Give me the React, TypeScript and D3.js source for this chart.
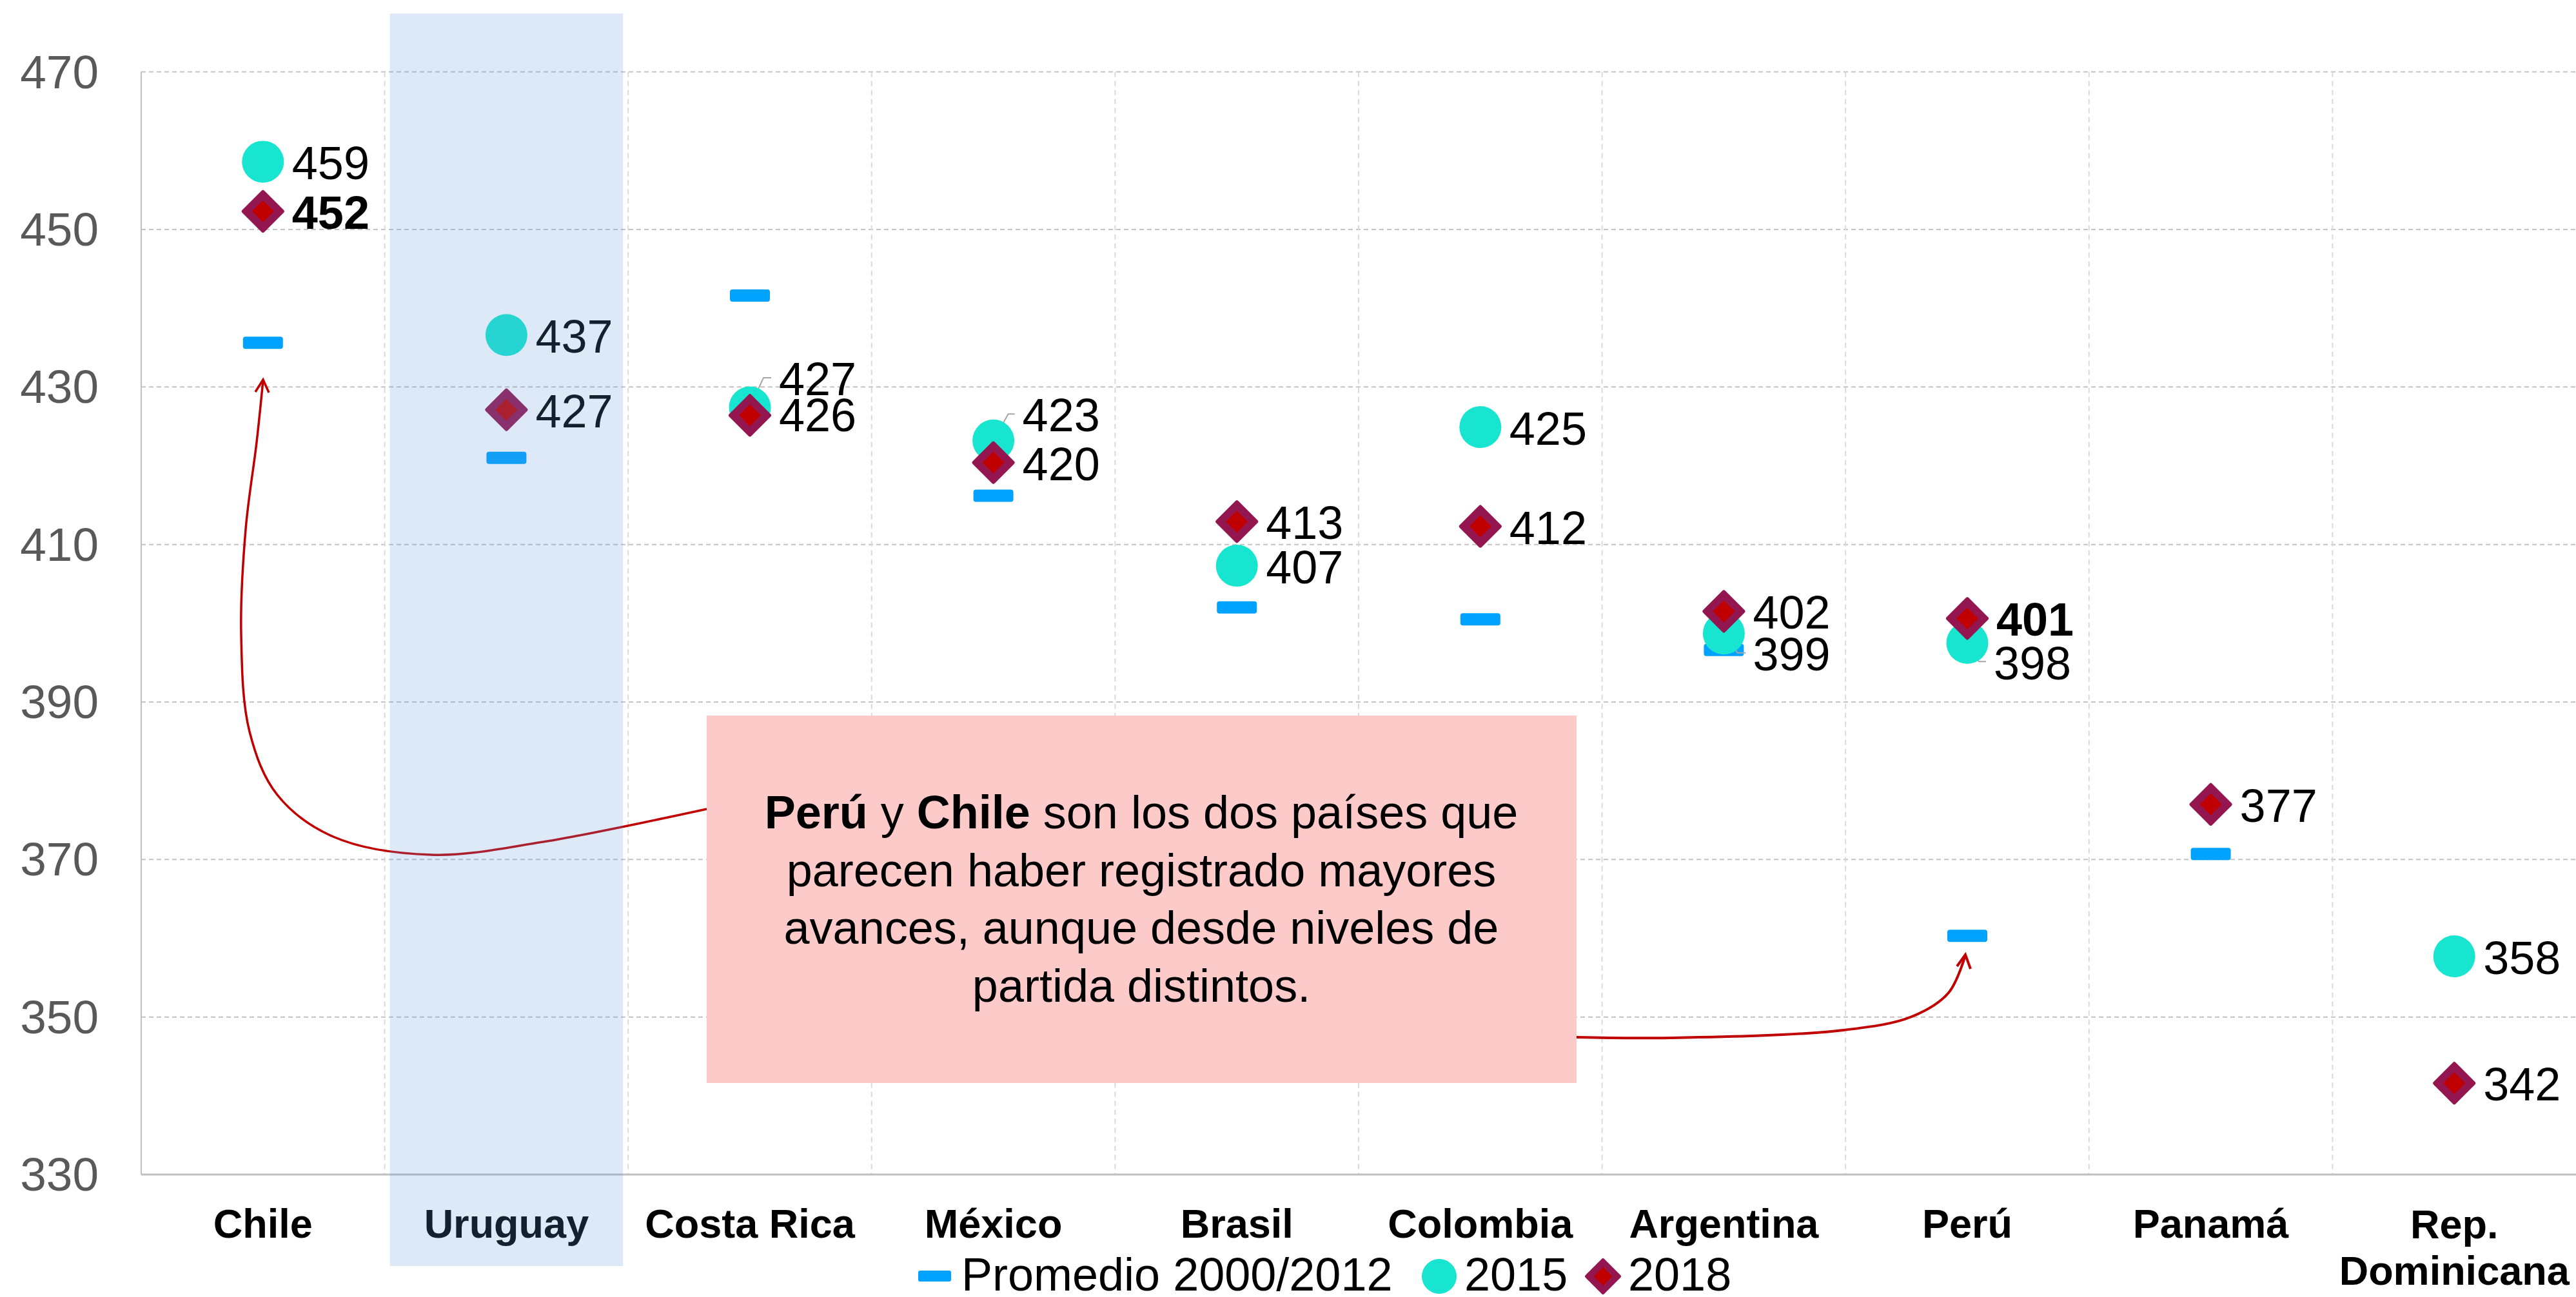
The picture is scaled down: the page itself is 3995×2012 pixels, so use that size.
import React from "react";
import * as d3 from "d3";

const categories = ["Chile", "Uruguay", "Costa Rica", "México", "Brasil", "Colombia", "Argentina", "Perú", "Panamá", "Rep. Dominicana"];
const promedio: (number | null)[] = [435.6, 421.0, 441.6, 416.2, 402.0, 400.5, 396.6, 360.3, 370.7, null];
const v2015: (number | null)[] = [458.6, 436.6, 427.4, 423.2, 407.3, 424.9, 398.7, 397.5, null, 357.7];
const v2018: (number | null)[] = [452.3, 427.1, 426.4, 420.4, 412.9, 412.3, 401.5, 400.6, 377.0, 341.6];
const bold2018 = ["Chile", "Perú"];
const yTicks = [330, 350, 370, 390, 410, 430, 450, 470];
const legendLabels = ["Promedio 2000/2012", "2015", "2018"];
const noteLines = [
  [["Perú", true], [" y ", false], ["Chile", true], [" son los dos países que", false]],
  [["parecen haber registrado mayores", false]],
  [["avances, aunque desde niveles de", false]],
  [["partida distintos.", false]],
] as [string, boolean][][];

// label vertical offsets (layout only)
const dy2015: Record<string, number> = { "Costa Rica": -19, "México": -14, "Argentina": 57, "Perú": 57 };
const dy2018: Record<string, number> = { "Costa Rica": 25 };
const leader2015: Record<string, [number, number][]> = {
  "Costa Rica": [[0, 0], [21, -46], [33, -46]],
  "México": [[0, 0], [23, -41], [33, -41]],
  "Argentina": [[0, 0], [21, 30], [34, 30]],
  "Perú": [[0, 0], [18, 29], [29, 29]],
};

const W = 3995, H = 2012;
const FONT = "'Liberation Sans', Arial, Helvetica, sans-serif";
const TEAL = "#17E5CF";
const MAROON = "#941651";
const RED = "#C00000";
const BLUE = "#00A2FF";

function diamond(cx: number, cy: number, h: number) {
  return `M${cx},${cy - h}L${cx + h},${cy}L${cx},${cy + h}L${cx - h},${cy}Z`;
}

function Diamond({ cx, cy, scale = 1 }: { cx: number; cy: number; scale?: number }) {
  return (
    <g>
      <path d={diamond(cx, cy, 30 * scale)} fill={MAROON} stroke={MAROON} strokeWidth={6 * scale} strokeLinejoin="round" />
      <path d={diamond(cx, cy, 17 * scale)} fill={RED} />
    </g>
  );
}

export default function App() {
  const x = d3.scaleBand<string>().domain(categories).range([219, 3995]).padding(0);
  const y = d3.scaleLinear().domain([330, 470]).range([1822, 111.6]);
  const bw = x.bandwidth();
  const cx = (c: string) => (x(c) as number) + bw / 2;

  const curve = d3.line<[number, number]>().curve(d3.curveCatmullRom.alpha(0.5));
  const chileArrow: [number, number][] = [
    [1096, 1255], [842, 1306], [669, 1326], [517, 1298], [430, 1233], [387, 1135], [374, 984], [381, 821], [398, 686], [408, 590],
  ];
  const peruArrow: [number, number][] = [
    [2445, 1609], [2591, 1610], [2859, 1598], [2965, 1577], [3022, 1540], [3048, 1482],
  ];

  const uru = x("Uruguay") as number;

  return (
    <svg width={W} height={H} style={{ position: "absolute", left: 0, top: 0, display: "block", background: "#fff" }} fontFamily={FONT}>
      <rect x={0} y={0} width={W} height={H} fill="#fff" />
      {/* horizontal gridlines */}
      {yTicks.filter((t) => t !== 330).map((t) => (
        <line key={"g" + t} x1={219} x2={W} y1={y(t)} y2={y(t)} stroke="#c4c4c4" strokeWidth={2} strokeDasharray="7,5" />
      ))}
      {/* vertical gridlines */}
      {categories.slice(1).map((c) => (
        <line key={"v" + c} x1={x(c)} x2={x(c)} y1={y(470)} y2={y(330)} stroke="#dadada" strokeWidth={2} strokeDasharray="8,6" />
      ))}
      {/* axes */}
      <line x1={219} x2={219} y1={y(470)} y2={y(330)} stroke="#c0c0c0" strokeWidth={2} />
      <line x1={219} x2={W} y1={y(330)} y2={y(330)} stroke="#c0c0c0" strokeWidth={3} />
      {yTicks.map((t) => (
        <text key={"t" + t} x={153} y={y(t) + 25} textAnchor="end" fontSize={73} fill="#595959">{t}</text>
      ))}
      {/* category labels */}
      {categories.map((c) =>
        c === "Rep. Dominicana" ? (
          <text key={"c" + c} x={cx(c)} y={1921} textAnchor="middle" fontSize={63} fontWeight="bold" fill="#000">
            <tspan x={cx(c)} y={1921}>Rep.</tspan>
            <tspan x={cx(c)} y={1993}>Dominicana</tspan>
          </text>
        ) : (
          <text key={"c" + c} x={cx(c)} y={1920} textAnchor="middle" fontSize={63} fontWeight="bold" fill="#000">{c}</text>
        )
      )}

      {/* arrows */}
      <path d={curve(chileArrow) || ""} fill="none" stroke={RED} strokeWidth={3.5} />
      <polyline points="396,608 408,589 417,609" fill="none" stroke={RED} strokeWidth={3.5} />
      <path d={curve(peruArrow) || ""} fill="none" stroke={RED} strokeWidth={4} />
      <polyline points="3035,1499 3048,1481 3056,1503" fill="none" stroke={RED} strokeWidth={4} />

      {/* annotation box */}
      <rect x={1096} y={1110} width={1349} height={570} fill="#FDCACA" />
      {noteLines.map((line, i) => (
        <text key={"n" + i} x={1770} y={1285 + i * 89.7} textAnchor="middle" fontSize={72} fill="#000">
          {line.map(([s, b], j) => (
            <tspan key={j} fontWeight={b ? "bold" : "normal"}>{s}</tspan>
          ))}
        </text>
      ))}

      {/* promedio dashes */}
      {categories.map((c, i) =>
        promedio[i] == null ? null : (
          <rect key={"p" + c} x={cx(c) - 31} y={y(promedio[i] as number) - 9.5} width={62} height={19} rx={4} fill={BLUE} />
        )
      )}
      {/* leader lines */}
      {categories.map((c, i) =>
        leader2015[c] && v2015[i] != null ? (
          <polyline
            key={"l" + c}
            points={leader2015[c].map(([dx, dy]) => `${cx(c) + dx},${y(v2015[i] as number) + dy}`).join(" ")}
            fill="none"
            stroke="#a6a6a6"
            strokeWidth={2}
          />
        ) : null
      )}
      {/* 2015 circles */}
      {categories.map((c, i) =>
        v2015[i] == null ? null : (
          <circle key={"a" + c} cx={cx(c)} cy={y(v2015[i] as number)} r={32.5} fill={TEAL} />
        )
      )}
      {/* 2018 diamonds */}
      {categories.map((c, i) =>
        v2018[i] == null ? null : <Diamond key={"d" + c} cx={cx(c)} cy={y(v2018[i] as number)} />
      )}
      {/* labels */}
      {categories.map((c, i) =>
        v2015[i] == null ? null : (
          <text key={"la" + c} x={cx(c) + (c === "Perú" ? 41 : 45)} y={y(v2015[i] as number) + (dy2015[c] ?? 27)} fontSize={72} fill="#000">
            {Math.round(v2015[i] as number)}
          </text>
        )
      )}
      {categories.map((c, i) =>
        v2018[i] == null ? null : (
          <text
            key={"lb" + c}
            x={cx(c) + 45}
            y={y(v2018[i] as number) + (dy2018[c] ?? 27)}
            fontSize={72}
            fontWeight={bold2018.includes(c) ? "bold" : "normal"}
            fill="#000"
          >
            {Math.round(v2018[i] as number)}
          </text>
        )
      )}

      {/* legend */}
      <rect x={1424} y={1971} width={51} height={17} rx={3} fill={BLUE} />
      <text x={1491} y={2002} fontSize={72} fill="#000">{legendLabels[0]}</text>
      <circle cx={2232} cy={1980} r={27} fill={TEAL} />
      <text x={2271} y={2002} fontSize={72} fill="#000">{legendLabels[1]}</text>
      <Diamond cx={2486} cy={1980} scale={0.85} />
      <text x={2525} y={2002} fontSize={72} fill="#000">{legendLabels[2]}</text>

      {/* Uruguay highlight overlay */}
      <rect x={uru + 8} y={21} width={bw - 16} height={1943} fill="rgb(94,151,217)" fillOpacity={0.21} />
    </svg>
  );
}
